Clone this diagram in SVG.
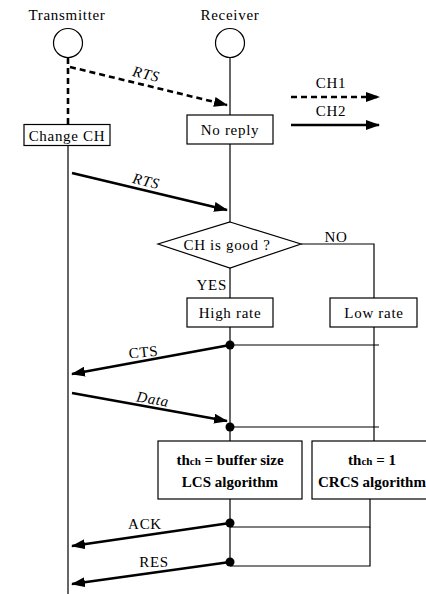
<svg xmlns="http://www.w3.org/2000/svg" width="426" height="594" viewBox="0 0 426 594">
<style>
.t{font-family:'Liberation Serif',serif;font-size:15px;letter-spacing:0.7px;fill:#000}
.i{font-style:italic}
.b{font-family:'Liberation Serif',serif;font-size:15px;font-weight:bold;fill:#000}
.box{fill:#fff;stroke:#000;stroke-width:1.2}
.ln{fill:none;stroke:#000;stroke-width:1.2}
.ar{fill:none;stroke:#000;stroke-width:2.6}
.dash{stroke-dasharray:6 4}
</style>
<defs>
<marker id="ah" markerUnits="userSpaceOnUse" markerWidth="14" markerHeight="10" refX="13" refY="5" orient="auto">
<path d="M0,0 L14,5 L0,10 Z" fill="#000"/>
</marker>
</defs>
<rect width="426" height="594" fill="#fff"/>

<g id="connectors">
<line class="ar dash" x1="68" y1="58" x2="68" y2="124"/>
<line class="ln" x1="68" y1="146" x2="68" y2="594"/>
<line class="ln" x1="230" y1="58" x2="230" y2="566"/>
<polyline class="ln" points="301,244 374,244 374,441"/>
<line class="ln" x1="230" y1="345" x2="379" y2="345"/>
<line class="ln" x1="230" y1="427" x2="379" y2="427"/>
<polyline class="ln" points="230,527 370,527 370,499"/>
<polyline class="ln" points="230,566 370,566 370,527"/>
<line class="ar dash" x1="70" y1="67" x2="227" y2="105" marker-end="url(#ah)"/>
<line class="ar" x1="72" y1="173" x2="227" y2="210" marker-end="url(#ah)"/>
<line class="ar" x1="230" y1="345" x2="72" y2="374" marker-end="url(#ah)"/>
<line class="ar" x1="72" y1="393" x2="227" y2="421" marker-end="url(#ah)"/>
<line class="ar" x1="230" y1="523" x2="72" y2="546" marker-end="url(#ah)"/>
<line class="ar" x1="230" y1="562" x2="72" y2="584" marker-end="url(#ah)"/>
<circle cx="230" cy="345" r="4.5"/>
<circle cx="230" cy="427" r="4.5"/>
<circle cx="230" cy="523" r="4.5"/>
<circle cx="230" cy="562" r="4.5"/>
<text class="t i" font-family="Liberation Serif" x="0" y="0" text-anchor="middle" transform="translate(145,79) rotate(13.5)">RTS</text>
<text class="t i" font-family="Liberation Serif" x="0" y="0" text-anchor="middle" transform="translate(145,186) rotate(13.5)">RTS</text>
<text class="t" font-family="Liberation Serif" x="0" y="0" text-anchor="middle" transform="translate(144,357) rotate(-6)">CTS</text>
<text class="t i" font-family="Liberation Serif" x="0" y="0" text-anchor="middle" transform="translate(152,404) rotate(10)">Data</text>
<text class="t" font-family="Liberation Serif" x="145" y="529" text-anchor="middle">ACK</text>
<text class="t" font-family="Liberation Serif" x="154" y="567" text-anchor="middle">RES</text>
<text class="t" font-family="Liberation Serif" x="227" y="290" text-anchor="end">YES</text>
<text class="t" font-family="Liberation Serif" x="336" y="242" text-anchor="middle">NO</text>
</g>

<g id="legend">
<line class="ar dash" x1="291" y1="97" x2="379" y2="97" marker-end="url(#ah)"/>
<text class="t" font-family="Liberation Serif" x="331" y="88" text-anchor="middle">CH1</text>
<line class="ar" x1="291" y1="125" x2="379" y2="125" marker-end="url(#ah)"/>
<text class="t" font-family="Liberation Serif" x="331" y="116" text-anchor="middle">CH2</text>
</g>

<g id="transmitter">
<text class="t" font-family="Liberation Serif" x="67" y="20" text-anchor="middle">Transmitter</text>
<circle class="box" cx="68" cy="43" r="14.5"/>
</g>
<g id="receiver">
<text class="t" font-family="Liberation Serif" x="230" y="20" text-anchor="middle">Receiver</text>
<circle class="box" cx="230" cy="43" r="14.5"/>
</g>
<g id="change-ch">
<rect class="box" x="24" y="124.5" width="86" height="21"/>
<text class="t" font-family="Liberation Serif" x="67" y="140.5" text-anchor="middle">Change CH</text>
</g>
<g id="no-reply">
<rect class="box" x="187" y="115" width="86" height="29"/>
<text class="t" font-family="Liberation Serif" x="230" y="134.5" text-anchor="middle">No reply</text>
</g>
<g id="ch-good">
<polygon class="box" points="230,222 301,244 230,268 158,244"/>
<text class="t" font-family="Liberation Serif" x="227" y="250" text-anchor="middle">CH is good  ?</text>
</g>
<g id="high-rate">
<rect class="box" x="187" y="298" width="86" height="29"/>
<text class="t" font-family="Liberation Serif" x="230" y="318" text-anchor="middle">High rate</text>
</g>
<g id="low-rate">
<rect class="box" x="330" y="298" width="87" height="29"/>
<text class="t" font-family="Liberation Serif" x="374" y="318" text-anchor="middle">Low rate</text>
</g>
<g id="lcs">
<rect class="box" x="158" y="441" width="144" height="58"/>
<text class="b" font-family="Liberation Serif" x="230" y="465" text-anchor="middle">th<tspan font-size="11">ch</tspan> = buffer size</text>
<text class="b" font-family="Liberation Serif" x="230" y="487" text-anchor="middle">LCS algorithm</text>
</g>
<g id="crcs">
<rect class="box" x="312" y="441" width="130" height="58"/>
<text class="b" font-family="Liberation Serif" x="372" y="465" text-anchor="middle">th<tspan font-size="11">ch</tspan> = 1</text>
<text class="b" font-family="Liberation Serif" x="372" y="487" text-anchor="middle">CRCS algorithm</text>
</g>
</svg>
